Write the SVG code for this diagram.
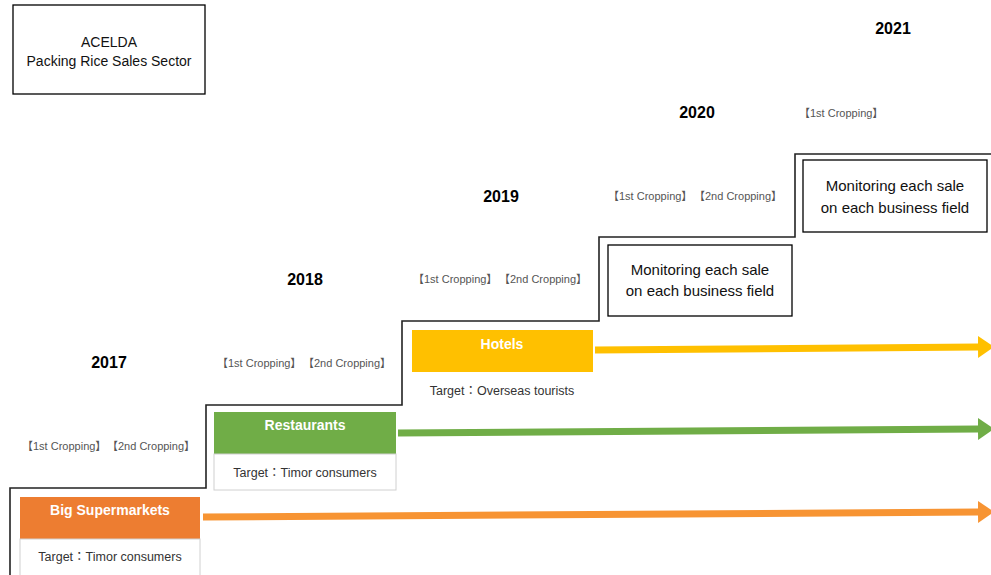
<svg xmlns="http://www.w3.org/2000/svg" width="991" height="575" viewBox="0 0 991 575">
<style>
.box{fill:#fff;stroke:#000;stroke-width:1.3}
.t{font-family:"Liberation Sans","Noto Sans CJK JP",sans-serif;fill:#111}
.yr{font-family:"Liberation Sans",sans-serif;font-weight:bold;font-size:16px;fill:#000;text-anchor:middle}
.crop{font-family:"Liberation Sans","Noto Sans CJK JP",sans-serif;font-size:11px;fill:#555}
.hd{font-family:"Liberation Sans",sans-serif;font-weight:bold;font-size:14px;fill:#fff;text-anchor:middle}
.tg{font-family:"Liberation Sans","Noto Sans CJK JP",sans-serif;font-size:12.5px;fill:#333;text-anchor:middle}
.sub{fill:#fff;stroke:#d0d0d0;stroke-width:1}
.mon{font-family:"Liberation Sans",sans-serif;font-size:15px;fill:#111;text-anchor:middle}
</style>
<defs>
<marker id="ahO" markerUnits="userSpaceOnUse" markerWidth="16" markerHeight="24" refX="0" refY="12" orient="auto"><path d="M0,1 L16,12 L0,23 z" fill="#F79433"/></marker>
<marker id="ahG" markerUnits="userSpaceOnUse" markerWidth="16" markerHeight="24" refX="0" refY="12" orient="auto"><path d="M0,1 L16,12 L0,23 z" fill="#70AD47"/></marker>
<marker id="ahY" markerUnits="userSpaceOnUse" markerWidth="16" markerHeight="24" refX="0" refY="12" orient="auto"><path d="M0,1 L16,12 L0,23 z" fill="#FFC000"/></marker>
</defs>
<rect width="991" height="575" fill="#fff"/>

<g id="staircase">
<path d="M10,575 V488 H206 V405 H402 V321 H599 V237 H795 V154 H991" fill="none" stroke="#222" stroke-width="1.6"/>
</g>

<g id="title">
<rect class="box" x="13" y="5" width="192" height="89"/>
<text class="t" x="109" y="47" font-size="14" text-anchor="middle">ACELDA</text>
<text class="t" x="109" y="66" font-size="14" text-anchor="middle">Packing Rice Sales Sector</text>
</g>

<g id="years">
<text class="yr" x="109" y="368">2017</text>
<text class="yr" x="305" y="285">2018</text>
<text class="yr" x="501" y="202">2019</text>
<text class="yr" x="697" y="118">2020</text>
<text class="yr" x="893" y="34">2021</text>
</g>

<g id="croppings">
<text class="crop" x="22" y="450">【1st Cropping】</text>
<text class="crop" x="107" y="450">【2nd Cropping】</text>
<text class="crop" x="217" y="367">【1st Cropping】</text>
<text class="crop" x="303" y="367">【2nd Cropping】</text>
<text class="crop" x="413" y="283">【1st Cropping】</text>
<text class="crop" x="499" y="283">【2nd Cropping】</text>
<text class="crop" x="608" y="200">【1st Cropping】</text>
<text class="crop" x="694" y="200">【2nd Cropping】</text>
<text class="crop" x="799" y="117">【1st Cropping】</text>
</g>

<g id="supermarkets">
<rect x="20" y="497" width="180" height="42" fill="#ED7D31"/>
<text class="hd" x="110" y="515">Big Supermarkets</text>
<rect class="sub" x="20" y="539" width="180" height="40"/>
<text class="tg" x="110" y="561">Target：Timor consumers</text>
</g>

<g id="restaurants">
<rect x="214" y="412" width="182" height="42" fill="#70AD47"/>
<text class="hd" x="305" y="430">Restaurants</text>
<rect class="sub" x="214" y="454" width="182" height="36"/>
<text class="tg" x="305" y="477">Target：Timor consumers</text>
</g>

<g id="hotels">
<rect x="412" y="330" width="181" height="42" fill="#FFC000"/>
<text class="hd" x="502" y="349">Hotels</text>
<text class="tg" x="502" y="395">Target：Overseas tourists</text>
</g>

<g id="monitoring2020">
<rect class="box" x="608" y="245" width="184" height="71" stroke-width="1.8"/>
<text class="mon" x="700" y="275">Monitoring each sale</text>
<text class="mon" x="700" y="296">on each business field</text>
</g>

<g id="monitoring2021">
<rect class="box" x="803" y="160" width="184" height="72" stroke-width="1.8"/>
<text class="mon" x="895" y="191">Monitoring each sale</text>
<text class="mon" x="895" y="213">on each business field</text>
</g>

<g id="connectors" fill="none" stroke-width="7">
<path d="M203,517 L978,512" stroke="#F79433" marker-end="url(#ahO)"/>
<path d="M398,433 L978,429" stroke="#70AD47" marker-end="url(#ahG)"/>
<path d="M595,350 L978,347" stroke="#FFC000" marker-end="url(#ahY)"/>
</g>
</svg>
